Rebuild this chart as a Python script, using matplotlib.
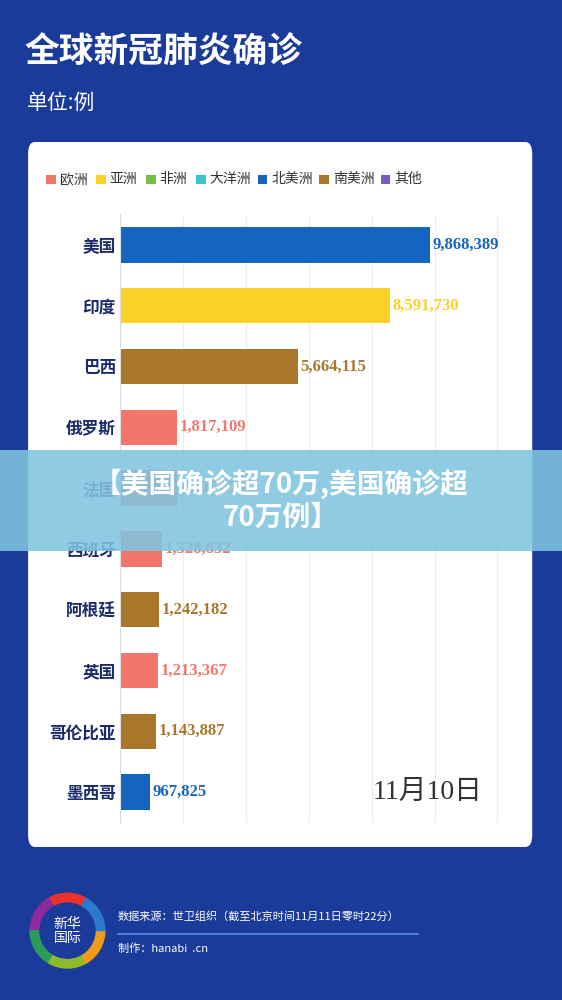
import matplotlib
matplotlib.use("Agg")
import matplotlib.pyplot as plt
from matplotlib.patches import FancyBboxPatch, Rectangle, Wedge, Circle

plt.rcParams['font.family'] = ['Noto Sans CJK SC', 'DejaVu Sans']

# ==========================================================
# DATA
# ==========================================================

countries = ["美国", "印度", "巴西", "俄罗斯", "法国", "西班牙", "阿根廷", "英国", "哥伦比亚", "墨西哥"]
cases = [9868389, 8591730, 5664115, 1817109, 1807479, 1328832, 1242182, 1213367, 1143887, 967825]
regions = ["北美洲", "亚洲", "南美洲", "欧洲", "欧洲", "欧洲", "南美洲", "欧洲", "南美洲", "北美洲"]

legend_names = ["欧洲", "亚洲", "非洲", "大洋洲", "北美洲", "南美洲", "其他"]
legend_colors = ["#f3766a", "#fcd12a", "#77bd45", "#3cc3d3", "#1565c0", "#a8772c", "#7a5bc8"]
region_color = dict(zip(legend_names, legend_colors))

# ==========================================================
# FIGURE
# ==========================================================

fig = plt.figure(figsize=(5.62, 10), dpi=100)
fig.patch.set_facecolor("#1b3b9b")

fig.text(0.043, 0.948, "全球新冠肺炎确诊", color="white", fontsize=25, fontweight="bold", va="center")
fig.text(0.048, 0.897, "单位:例", color="white", fontsize=15, va="center")

# white panel
panel = FancyBboxPatch((0.05, 0.153), 0.897, 0.705, boxstyle="round,pad=0,rounding_size=0.012",
                       transform=fig.transFigure, facecolor="white", edgecolor="none", zorder=-1)
fig.patches.append(panel)

# legend
lx = 0.082
for name, col in zip(legend_names, legend_colors):
    fig.patches.append(Rectangle((lx, 0.816), 0.017, 0.0095, transform=fig.transFigure,
                                 facecolor=col, edgecolor="none", zorder=1))
    fig.text(lx + 0.024, 0.821, name, fontsize=10, color="#333333", va="center")
    lx += 0.03 + 0.0205 * len(name) + 0.018

# ==========================================================
# BARS
# ==========================================================

ax = fig.add_axes([0.2135, 0.1775, 0.694, 0.608])
ax.set_zorder(1)
ax.set_facecolor("white")
ypos = list(range(len(countries)))
colors = [region_color[r] for r in regions]
ax.barh(ypos, cases, height=0.58, color=colors, zorder=2)
ax.set_xlim(0, 12.4e6)
ax.set_ylim(len(countries) - 0.5, -0.5)
ax.set_yticks(ypos)
ax.set_yticklabels(countries, fontsize=12, fontweight="bold", color="#1a2a6a")
ax.tick_params(axis="y", length=0, pad=3)
ax.set_xticks([2e6, 4e6, 6e6, 8e6, 10e6, 12e6])
ax.set_xticklabels([])
ax.tick_params(axis="x", length=0)
ax.grid(axis="x", color="#eeeeee", lw=1, zorder=0)
for s in ["top", "right", "bottom"]:
    ax.spines[s].set_visible(False)
ax.spines["left"].set_color("#dddddd")

for y, v, c in zip(ypos, cases, colors):
    ax.text(v + 0.08e6, y, f"{v:,}", va="center", ha="left", fontsize=12, fontweight="bold",
            color=c, family="Liberation Serif", zorder=3)

ax.text(0.93, 0.05, "11月10日", transform=ax.transAxes, ha="right", va="center",
        fontsize=20, color="#333333", family=["Liberation Serif", "Noto Sans CJK SC"])

# ==========================================================
# BANNER
# ==========================================================

fig.patches.append(Rectangle((0, 0.449), 1, 0.101, transform=fig.transFigure,
                             facecolor="#80c4e0", alpha=0.88, edgecolor="none", zorder=5))
fig.text(0.5, 0.5, "【美国确诊超70万,美国确诊超\n70万例】", ha="center", va="center",
         color="white", fontsize=20, fontweight="bold", linespacing=1.2, zorder=6)

# ==========================================================
# FOOTER
# ==========================================================

lax = fig.add_axes([0.05, 0.03, 0.14, 0.0787])
lax.set_xlim(-1, 1)
lax.set_ylim(-1, 1)
lax.set_aspect("equal")
lax.axis("off")
ring = ["#e8322b", "#8d2a9e", "#2e9a5a", "#8dbb2c", "#f29a1b", "#2a7bd0"]
for i, c in enumerate(ring):
    lax.add_patch(Wedge((0, 0), 0.95, 60 + i * 60, 120 + i * 60, width=0.25, color=c))
lax.add_patch(Circle((0, 0), 0.7, color="#1b3b9b"))
lax.text(0, 0, "新华\n国际", ha="center", va="center", color="white", fontsize=10, linespacing=1.0)

fig.text(0.21, 0.084, "数据来源：世卫组织（截至北京时间11月11日零时22分）", color="white", fontsize=8, va="center")
fig.lines.append(plt.Line2D([0.21, 0.743], [0.066, 0.066], transform=fig.transFigure,
                            color="#5b8ce0", lw=1.2))
fig.text(0.21, 0.051, "制作：hanabi  .cn", color="white", fontsize=8, va="center")

fig.savefig("out.png", dpi=100, facecolor=fig.get_facecolor())
